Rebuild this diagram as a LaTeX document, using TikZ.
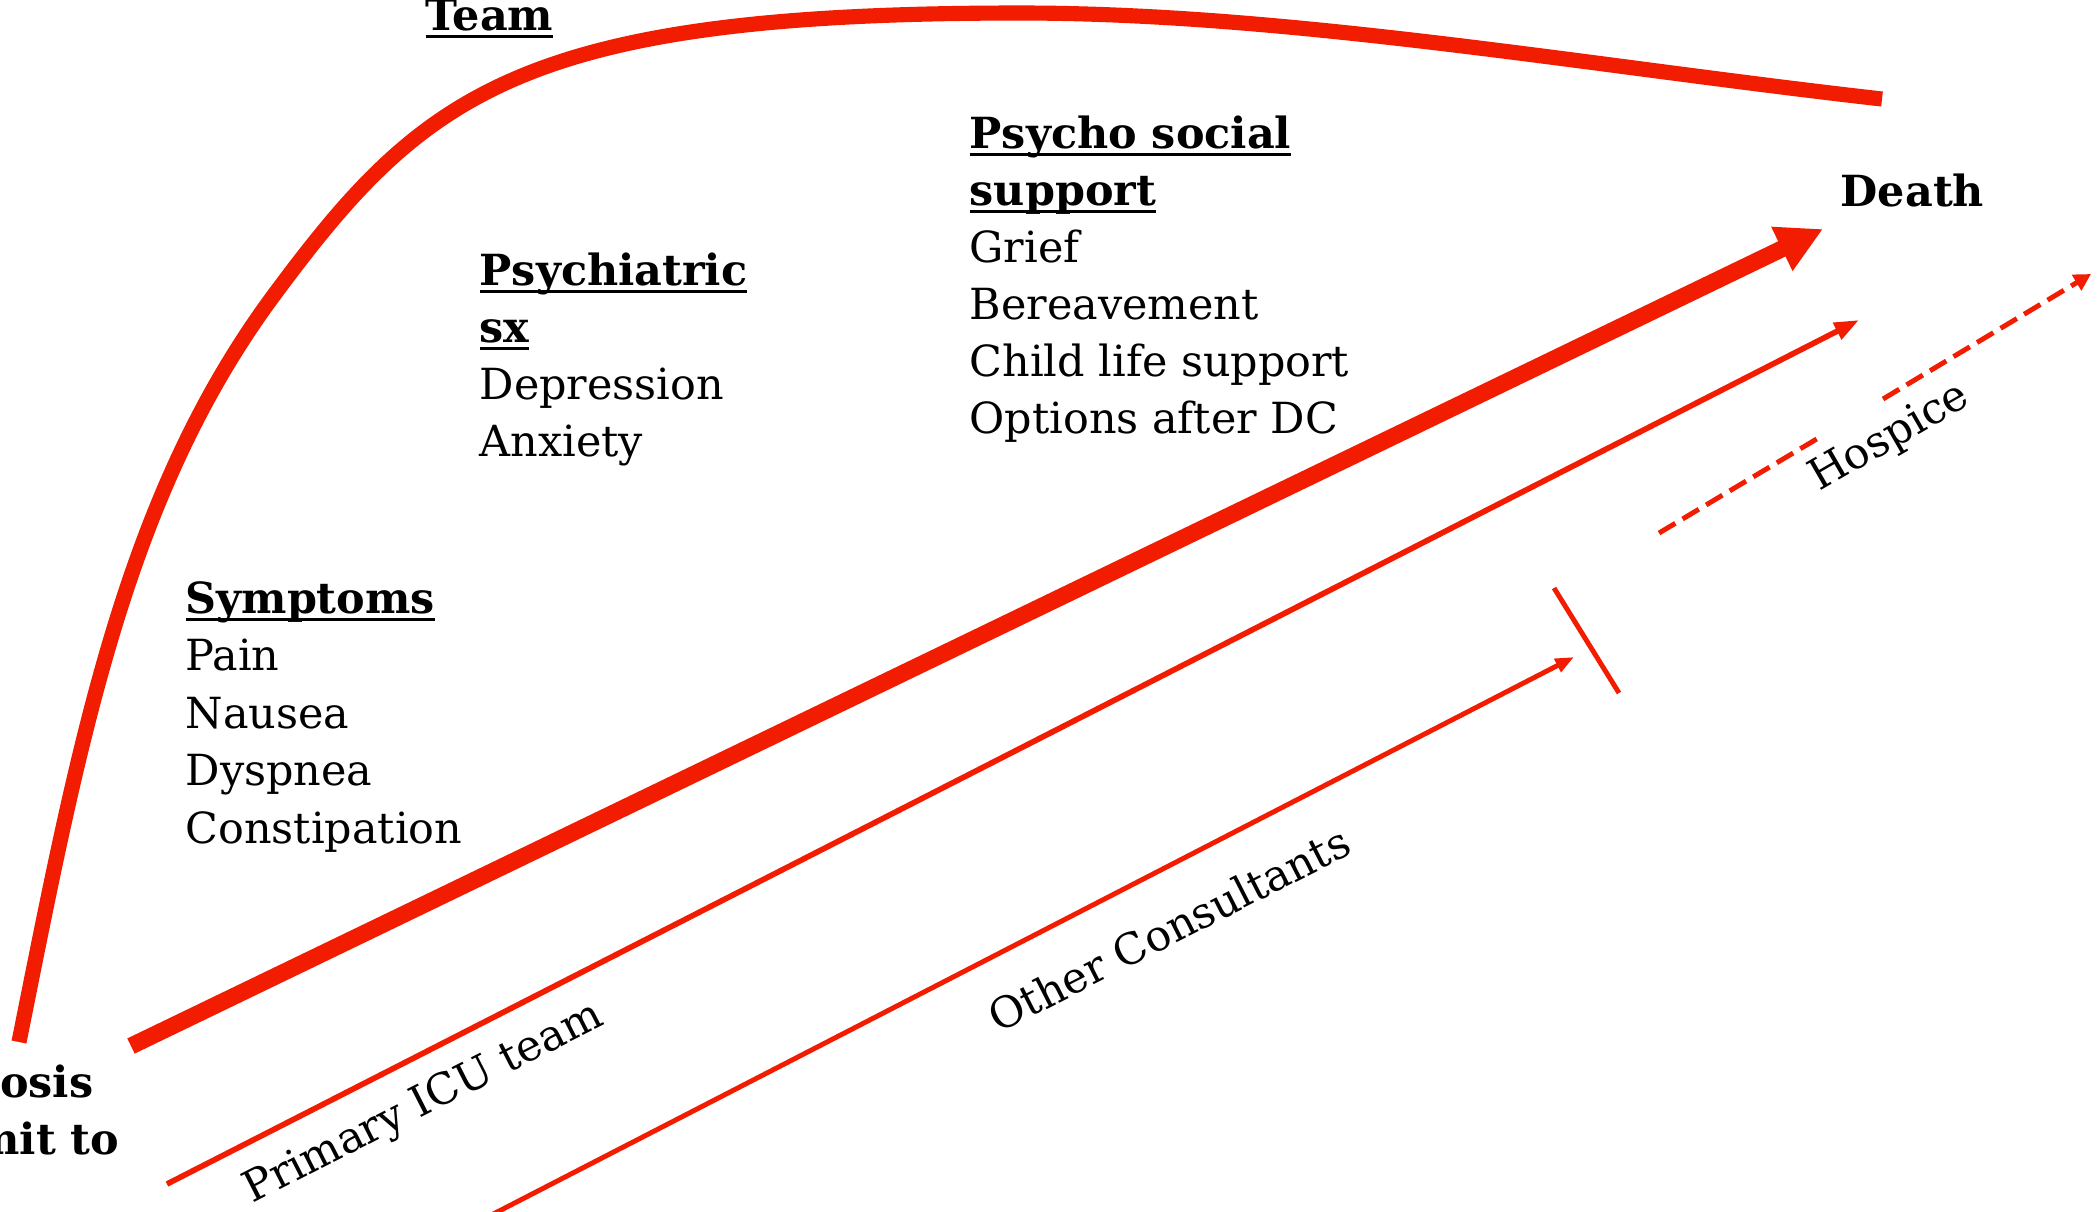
\documentclass[tikz,border=0pt]{standalone}
\usepackage{fontspec}
\setmainfont{DejaVu Serif}
\usetikzlibrary{arrows.meta}

\definecolor{pathred}{RGB}{242,28,0}
\newcommand{\headline}[1]{\setbox0\hbox{\bfseries #1}\rlap{\rule[-2.4pt]{\wd0}{1pt}}\box0}

\tikzset{
  item/.style={anchor=base west, inner sep=0pt, font=\fontsize{12.2pt}{14pt}\selectfont},
  tag/.style={inner sep=0pt, font=\fontsize{12.2pt}{14pt}\selectfont},
  track/.style={pathred, line width=1.6pt},
}

\begin{document}
\begin{tikzpicture}[x=0.01cm, y=-0.01cm]
\useasboundingbox (0,0) rectangle (2097,1211);

% the big curve
\draw[pathred, line width=4.3pt] (19,1042) .. controls (79,742) and (125,496) .. (274,295)
  .. controls (423,94) and (520,13) .. (1020,13)
  .. controls (1290,13) and (1590,66) .. (1882,99);

% text blocks
\node[item] (team) at (425,30) {\headline{Team}};
\node[item, anchor=base east] (diag) at (94,1097) {\bfseries Diagnosis};
\node[item, anchor=base east] (admit) at (120,1154) {\bfseries Admit to};
\node[item] (death) at (1840,206) {\bfseries Death};

\node[item] (sym) at (185,613) {\headline{Symptoms}};
\foreach \t [count=\i] in {Pain,Nausea,Dyspnea,Constipation}
  \node[item] (sym\i) at (185,613+57.5*\i) {\t};

\node[item] (psy) at (479,285) {\headline{Psychiatric}};
\node[item] (psysx) at (479,342) {\headline{sx}};
\foreach \t [count=\i] in {Depression,Anxiety}
  \node[item] (psy\i) at (479,342+57*\i) {\t};

\node[item] (soc) at (969,148) {\headline{Psycho social}};
\node[item] (socsup) at (969,205) {\headline{support}};
\foreach \t [count=\i] in {Grief,Bereavement,Child life support,Options after DC}
  \node[item] (soc\i) at (969,205+57.2*\i) {\t};

% arrows
\coordinate (fast0) at (131,1046);
\coordinate (fast1) at (1823,229);
\draw[track, line width=4.8pt, -{Triangle[length=13pt,width=13pt]}] (fast0) -- (fast1);

\coordinate (icu0) at (167,1184);
\coordinate (icu1) at (1859,320);
\draw[track, -{Triangle[length=7pt,width=5pt]}] (icu0) -- (icu1);
\node[tag, rotate=27] (icu) at (424,1104) {Primary ICU team};

\coordinate (cons0) at (470,1226);
\coordinate (cons1) at (1574,657);
\draw[track, line width=1.4pt, -{Triangle[length=5.3pt,width=4pt]}] (cons0) -- (cons1);
\node[tag, rotate=27] (cons) at (1169,929) {Other Consultants};

\coordinate (stop0) at (1554,588);
\coordinate (stop1) at (1619,693);
\draw[track, line width=1.4pt] (stop0) -- (stop1);

\coordinate (hosp0) at (1659,533);
\coordinate (hosp1) at (1820,437);
\coordinate (hosp2) at (1883,399);
\coordinate (hosp3) at (2091,274);
\draw[track, line width=1.4pt, dash pattern=on 5.4pt off 2.4pt] (hosp0) -- (hosp1);
\draw[track, line width=1.4pt, dash pattern=on 5.4pt off 2.4pt, -{Triangle[length=4.8pt,width=5pt]}] (hosp2) -- (hosp3);
\node[tag, rotate=30] (hosp) at (1890,438) {Hospice};
\end{tikzpicture}
\end{document}
